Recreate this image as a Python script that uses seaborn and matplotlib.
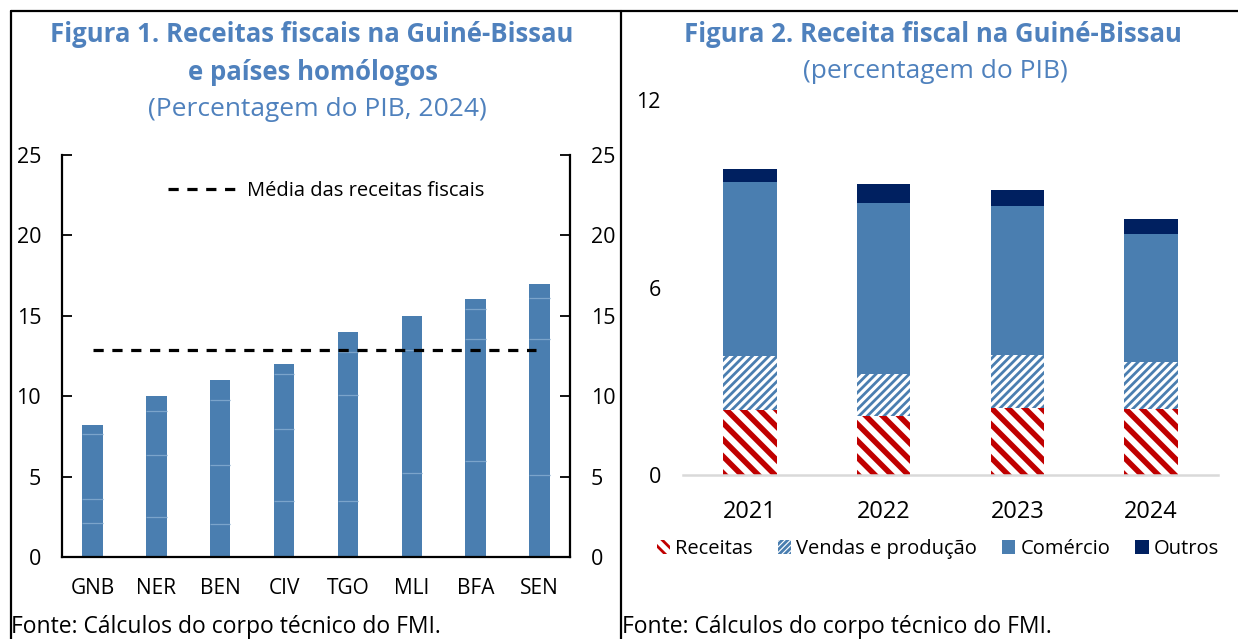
import numpy as np
import pandas as pd
import matplotlib
matplotlib.use("Agg")
import matplotlib.pyplot as plt
import seaborn as sns
from matplotlib.patches import Patch
from matplotlib.lines import Line2D

# ---------------- data ----------------
countries = ["GNB", "NER", "BEN", "CIV", "TGO", "MLI", "BFA", "SEN"]
total_rev = [8.18, 10.04, 11.02, 12.01, 14.00, 14.98, 16.02, 16.95]
seg_a = [2.14, 2.51, 2.08, 3.47, 3.51, 5.20, 5.94, 5.07]
seg_b = [1.49, 3.86, 3.67, 4.52, 6.59, 7.70, 7.59, 8.46]
seg_c = [4.05, 2.68, 4.04, 3.42, 2.62, 2.08, 1.90, 2.55]
avg_rev = 12.9

years = ["2021", "2022", "2023", "2024"]
receitas = [2.08, 1.90, 2.15, 2.10]
vendas = [1.74, 1.32, 1.68, 1.53]
comercio = [5.56, 5.49, 4.79, 4.07]
outros = [0.40, 0.59, 0.51, 0.48]

left_ticks = [0, 5, 10, 15, 20, 25]
right_ticks = [0, 6, 12]

# ---------------- style ----------------
sns.set_theme(style="white")
FONT = ["Open Sans", "DejaVu Sans"]
plt.rcParams["font.family"] = FONT
plt.rcParams["text.color"] = "black"
plt.rcParams["xtick.color"] = "black"
plt.rcParams["ytick.color"] = "black"
TITLE_C = "#4F81BD"
BAR_C = "#4A7EB0"
RED_C = "#C00000"
NAVY_C = "#002060"

W, H = 1238, 639
fig = plt.figure(figsize=(W / 100, H / 100), dpi=100)


def fx(px):
    return px / W


def fy(py):
    return 1 - py / H


# ---------------- left chart ----------------
ax1 = fig.add_axes([fx(62), fy(557), fx(570) - fx(62), fy(155) - fy(557)])
df1 = pd.DataFrame({"pais": countries, "total": total_rev})
sns.barplot(data=df1, x="pais", y="total", color=BAR_C, saturation=1,
            width=0.32, ax=ax1, linewidth=0)
cum = np.cumsum(np.array([seg_a, seg_b, seg_c]), axis=0)
for i, p in enumerate(ax1.patches):
    x0, w = p.get_x(), p.get_width()
    for lvl in cum[:, i]:
        if lvl < total_rev[i] - 0.05:
            ax1.hlines(lvl, x0, x0 + w, color="#7BA4CB", lw=0.9, zorder=3)
ax1.hlines(avg_rev, 0, len(countries) - 1 - 0.06, colors="black", lw=2.3,
           linestyles=(0, (3.2, 2.7)), zorder=4)
ax1.set_xlim(-0.48, len(countries) - 0.52)
ax1.set_ylim(0, 25)
ax1.set_yticks(left_ticks)
ax1.set_xlabel("")
ax1.set_ylabel("")
for s in ["top", "right"]:
    ax1.spines[s].set_visible(False)
for s in ["left", "bottom"]:
    ax1.spines[s].set_color("black")
    ax1.spines[s].set_linewidth(1.6)
ax1.tick_params(axis="y", direction="in", length=7, width=1.3, color="black",
                labelsize=15.5, pad=15, left=True)
ax1.tick_params(axis="x", length=0, labelsize=15, pad=15)

ax1r = ax1.twinx()
ax1r.set_ylim(0, 25)
ax1r.set_yticks(left_ticks)
for s in ["top", "left", "bottom"]:
    ax1r.spines[s].set_visible(False)
ax1r.spines["right"].set_color("black")
ax1r.spines["right"].set_linewidth(1.6)
ax1r.tick_params(axis="y", direction="in", length=7, width=1.3, color="black",
                 labelsize=15.5, pad=15, right=True)
ax1r.grid(False)
ax1.grid(False)

leg_h = [Line2D([0], [0], color="black", lw=2.3, linestyle=(0, (3.2, 2.7)))]
ax1r.legend(leg_h, ["Média das receitas fiscais"], loc="center",
            bbox_to_anchor=(0.52, 0.91), frameon=False, fontsize=14.5,
            handlelength=3.5, handletextpad=0.45)

# ---------------- right chart ----------------
ax2 = fig.add_axes([fx(683), fy(475), fx(1218) - fx(683), fy(100) - fy(475)])
layers = [
    ("Outros", np.array(receitas) + np.array(vendas) + np.array(comercio) + np.array(outros)),
    ("Comércio", np.array(receitas) + np.array(vendas) + np.array(comercio)),
    ("Vendas e produção", np.array(receitas) + np.array(vendas)),
    ("Receitas", np.array(receitas)),
]
styles = {
    "Outros": dict(fc=NAVY_C, ec=NAVY_C, hatch=None, hlw=1.0),
    "Comércio": dict(fc=BAR_C, ec=BAR_C, hatch=None, hlw=1.0),
    "Vendas e produção": dict(fc="white", ec=BAR_C, hatch="////", hlw=2.0),
    "Receitas": dict(fc="white", ec=RED_C, hatch="\\\\", hlw=4.0),
}
for name, vals in layers:
    st = styles[name]
    plt.rcParams["hatch.linewidth"] = st["hlw"]
    n0 = len(ax2.patches)
    dfl = pd.DataFrame({"ano": years, "v": vals})
    sns.barplot(data=dfl, x="ano", y="v", color=st["fc"], saturation=1,
                width=0.4, ax=ax2, linewidth=0)
    for p in ax2.patches[n0:]:
        p.set_facecolor(st["fc"])
        p.set_edgecolor(st["ec"])
        p.set_linewidth(0)
        if st["hatch"]:
            p.set_hatch(st["hatch"])
            try:
                p.set_hatch_linewidth(st["hlw"])
            except AttributeError:
                pass
ax2.set_xlim(-0.5, len(years) - 0.5)
ax2.set_ylim(0, 12)
ax2.set_yticks(right_ticks)
ax2.set_xlabel("")
ax2.set_ylabel("")
for s in ["top", "right", "left"]:
    ax2.spines[s].set_visible(False)
ax2.spines["bottom"].set_color("#D9D9D9")
ax2.spines["bottom"].set_linewidth(1.8)
ax2.tick_params(axis="y", length=0, labelsize=15.5, pad=16)
ax2.tick_params(axis="x", length=0, labelsize=17, pad=18)
ax2.grid(False)

plt.rcParams["hatch.linewidth"] = 2.0
leg2 = [
    Patch(facecolor="white", edgecolor=RED_C, hatch="\\\\\\", linewidth=0),
    Patch(facecolor="white", edgecolor=BAR_C, hatch="//////", linewidth=0),
    Patch(facecolor=BAR_C, edgecolor=BAR_C, linewidth=0),
    Patch(facecolor=NAVY_C, edgecolor=NAVY_C, linewidth=0),
]
fig.legend(leg2, ["Receitas", "Vendas e produção", "Comércio", "Outros"],
           loc="center", bbox_to_anchor=(fx(938), fy(549)), ncol=4,
           frameon=False, fontsize=14.5, handlelength=0.65, handleheight=0.7,
           handletextpad=0.25, columnspacing=1.25)

# ---------------- titles ----------------
fig.text(fx(312), fy(34), "Figura 1. Receitas fiscais na Guiné-Bissau",
         ha="center", va="center", fontsize=18.5, fontweight="bold", color=TITLE_C)
fig.text(fx(313), fy(73), "e países homólogos",
         ha="center", va="center", fontsize=18.5, fontweight="bold", color=TITLE_C)
fig.text(fx(317), fy(109), "(Percentagem do PIB, 2024)",
         ha="center", va="center", fontsize=19, color=TITLE_C)
fig.text(fx(933), fy(34), "Figura 2. Receita fiscal na Guiné-Bissau",
         ha="center", va="center", fontsize=18.5, fontweight="bold", color=TITLE_C)
fig.text(fx(935), fy(72), "(percentagem do PIB)",
         ha="center", va="center", fontsize=19, color=TITLE_C)

fig.text(fx(11), fy(627), "Fonte: Cálculos do corpo técnico do FMI.",
         ha="left", va="center", fontsize=16.5, color="black")
fig.text(fx(622), fy(627), "Fonte: Cálculos do corpo técnico do FMI.",
         ha="left", va="center", fontsize=16.5, color="black")

# ---------------- frame lines ----------------
for xs, ys in [([11, W], [11, 11]), ([11, 11], [11, H]), ([621, 621], [11, H])]:
    fig.add_artist(Line2D([fx(v) for v in xs], [fy(v) for v in ys],
                          color="black", lw=1.6, transform=fig.transFigure))

fig.savefig("out.png", dpi=100)
